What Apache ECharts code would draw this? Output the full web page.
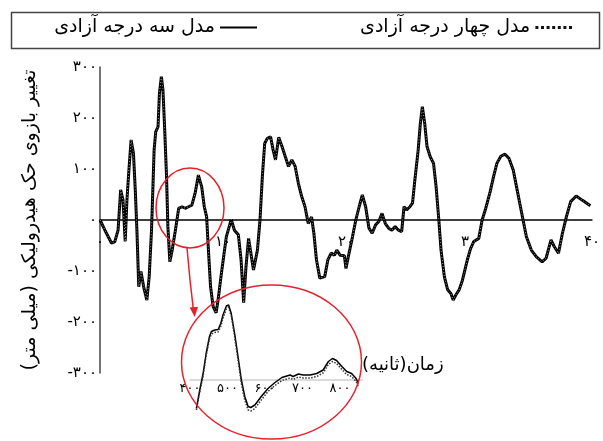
<!DOCTYPE html>
<html>
<head>
<meta charset="utf-8">
<script src="https://cdn.jsdelivr.net/npm/echarts@6/dist/echarts.min.js"></script>
<style>
  html, body { margin: 0; padding: 0; background: #fff; }
  #chart { width: 603px; height: 441px; }
</style>
</head>
<body>
<div id="chart"></div>
<script>
// نام سری‌ها و برچسب‌ها
const dof3Name = 'مدل سه درجه آزادی';
const dof4Name = 'مدل چهار درجه آزادی';
const yTitle = 'تغییر بازوی حک هیدرولیکی (میلی متر)';
const xTitle = 'زمان(ثانیه)';

// زمان (ثانیه) - نقاط خوانده شده از نمودار
const timeSec = [
  0, 0.4, 0.93, 1.2, 1.47, 1.68, 1.87, 2.05, 2.19, 2.35, 2.53, 2.72, 2.88, 3.01, 3.15, 3.33, 3.55, 3.81, 4.0, 4.19,
  4.4, 4.53, 4.72, 4.83, 4.99, 5.12, 5.25, 5.41, 5.52, 5.68, 5.87, 6.13, 6.4, 6.67, 6.93, 7.2, 7.47, 7.73, 8.0, 8.27,
  8.48, 8.67, 8.8, 8.99, 9.2, 9.44, 9.6, 9.87, 10.27, 10.67, 10.93, 11.25, 11.47, 11.68, 11.87, 12.08, 12.27, 12.48, 12.8, 13.01,
  13.2, 13.39, 13.6, 13.87, 14.08, 14.27, 14.53, 14.8, 15.07, 15.33, 15.6, 15.87, 16.13, 16.4, 16.67, 16.93, 17.2, 17.39, 17.6, 17.87,
  18.27, 18.53, 18.8, 19.07, 19.25, 19.52, 19.87, 20.0, 20.19, 20.53, 20.8, 21.07, 21.33, 21.6, 21.87, 22.13, 22.4, 22.67, 22.93, 23.2,
  23.47, 23.73, 24.0, 24.27, 24.53, 24.72, 24.93, 25.2, 25.41, 25.6, 25.87, 26.05, 26.21, 26.4, 26.59, 26.85, 27.12, 27.33, 27.55, 27.73,
  28.0, 28.27, 28.53, 28.72, 28.93, 29.2, 29.47, 29.73, 29.87, 30.13, 30.4, 30.8, 31.07, 31.33, 31.73, 32.0, 32.27, 32.59, 32.93, 33.25,
  33.6, 33.87, 34.13, 34.4, 34.67, 35.07, 35.47, 35.95, 36.27, 36.67, 36.93, 37.28, 37.6, 37.92, 38.27, 38.72, 39.2, 39.87
];
// تغییر بازو (میلی متر) - مدل سه درجه آزادی
const dof3Values = [
  0, -20, -45, -43, -20, 59, 39, -42, 39, 98, 157, 131, 53, -26, -131, -101, -131, -157, -111, -20,
  137, 173, 183, 248, 281, 255, 183, 85, -13, -82, -59, -20, 23, 26, 23, 26, 29, 52, 88, 65,
  26, 6, -52, -131, -170, -182, -157, -105, -33, 1, -20, -29, -78, -162, -92, -36, -65, -98, -59, 0,
  85, 150, 160, 163, 137, 118, 162, 144, 124, 105, 118, 105, 72, 46, 26, -7, 6, -26, -78, -114,
  -111, -78, -65, -69, -59, -69, -70, -95, -72, -33, 0, 26, 49, 26, -16, -26, -10, -3, 13, -7,
  -16, -20, -13, -20, -23, 26, 20, 26, 33, 78, 137, 190, 222, 190, 144, 124, 111, 65, 0, -59,
  -111, -137, -144, -157, -147, -137, -118, -92, -78, -56, -42, -36, 0, 20, 56, 85, 111, 125, 129, 121,
  98, 65, 33, 0, -33, -59, -72, -82, -75, -39, -52, -65, -26, 6, 36, 47, 39, 28
];
// مدل چهار درجه آزادی در این مقیاس روی همان منحنی می‌افتد
const dof4Values = dof3Values;

// بزرگنمایی داخل دایره
const insetSamples = [417, 426, 435, 443, 452, 457, 466, 475, 482, 488, 497, 503, 510, 519, 528, 537, 546, 555, 562, 573,
  590, 608, 625, 645, 667, 675, 689, 702, 720, 738, 755, 769, 780, 791, 805, 818, 831, 843, 849];
const insetDof3 = [-57, -20, 13, 53, 87, 97, 100, 101, 113, 130, 148, 150, 133, 93, 47, 0, -33, -53, -55, -50,
  -33, -17, -6, 5, 10, 7, 12, 10, 10, 13, 20, 37, 43, 39, 27, 17, 13, 3, -7];
const insetDof4 = [-60, -24, 9, 48, 82, 92, 95, 96, 107, 124, 142, 145, 128, 87, 40, -7, -40, -60, -62, -57,
  -40, -23, -12, -1, 4, 1, 6, 4, 4, 7, 14, 31, 37, 33, 21, 11, 7, -3, -13];
const insetTicks = [400, 500, 600, 700, 800];

const faDigits = '۰۱۲۳۴۵۶۷۸۹';
const toFa = n => String(n).replace(/\d/g, d => faDigits[d]);
const font = 'DejaVu Sans';

const zip = (xs, ys) => xs.map((x, i) => [x, ys[i]]);

const chart = echarts.init(document.getElementById('chart'));
chart.setOption({
  animation: false,
  textStyle: { fontFamily: font },
  legend: [
    {
      data: [dof3Name], right: 346, top: 18, align: 'right', selectedMode: false, padding: 0,
      icon: 'rect', itemWidth: 37, itemHeight: 2, itemStyle: { color: '#000' },
      textStyle: { fontSize: 19, color: '#000', fontFamily: font }
    },
    {
      data: [dof4Name], right: 31, top: 18, align: 'right', selectedMode: false, padding: 0,
      icon: 'path://M0,0h3v3h-3zM5.6,0h3v3h-3zM11.2,0h3v3h-3zM16.8,0h3v3h-3zM22.4,0h3v3h-3zM28,0h3v3h-3zM33.6,0h3v3h-3z',
      itemWidth: 37, itemHeight: 3, itemStyle: { color: '#111' },
      textStyle: { fontSize: 19, color: '#000', fontFamily: font }
    }
  ],
  grid: [
    { left: 100, right: 3, top: 67, height: 306 },
    { left: 190, width: 172.5, top: 290, height: 140 }
  ],
  xAxis: [
    {
      // محور زمان روی خط صفر
      type: 'value', min: 0, max: 40, interval: 10, offset: -153,
      axisLine: { onZero: false, lineStyle: { color: '#000', width: 1.5 } },
      axisTick: { show: false }, splitLine: { show: false },
      axisLabel: { margin: 15, fontSize: 15, color: '#000', formatter: v => toFa(v) }
    },
    {
      type: 'value', gridIndex: 1, min: 400, max: 860, interval: 100, offset: -50,
      axisLine: { onZero: false, lineStyle: { color: '#cfcfcf', width: 1.5 } },
      axisTick: { show: false }, splitLine: { show: false },
      axisLabel: {
        margin: 2, fontSize: 13, color: '#000',
        formatter: v => insetTicks.includes(v) ? toFa(v) : ''
      }
    }
  ],
  yAxis: [
    {
      type: 'value', min: -300, max: 300, interval: 100,
      name: yTitle, nameLocation: 'middle', nameRotate: 90, nameGap: 60,
      nameTextStyle: { fontSize: 19, color: '#000', fontFamily: font },
      axisLine: { show: true, lineStyle: { color: '#444', width: 1.5 } },
      axisTick: { show: false }, splitLine: { show: false },
      axisLabel: {
        margin: 3, fontSize: 15, color: '#000',
        formatter: v => v < 0 ? '-' + toFa(-v) : toFa(v)
      }
    },
    {
      type: 'value', gridIndex: 1, min: -100, max: 180, show: false
    }
  ],
  graphic: [
    {
      type: 'rect', left: 9, top: 10, z: 100,
      shape: { width: 588, height: 36 },
      style: { fill: 'none', stroke: '#444', lineWidth: 1.5 }
    },
    {
      type: 'text', left: 362, top: 356, z: 100,
      style: { text: xTitle, fontSize: 18, fontFamily: font, fill: '#000' }
    },
    {
      type: 'ellipse', z: 100,
      shape: { cx: 190, cy: 208, rx: 34, ry: 40 },
      style: { fill: 'none', stroke: '#e8202a', lineWidth: 1.5 }
    },
    {
      type: 'ellipse', z: 100,
      shape: { cx: 271.5, cy: 362, rx: 90, ry: 77 },
      style: { fill: 'none', stroke: '#e8202a', lineWidth: 1.5 }
    },
    {
      type: 'polyline', z: 100,
      shape: { points: [[187, 248], [190, 280], [193.3, 309]] },
      style: { fill: 'none', stroke: '#e8202a', lineWidth: 1.5 }
    },
    {
      type: 'polygon', z: 100,
      shape: { points: [[194.7, 317], [189.6, 307.5], [198, 306.8]] },
      style: { fill: '#e8202a' }
    }
  ],
  series: [
    {
      name: dof3Name, type: 'line', showSymbol: false, symbol: 'none',
      data: zip(timeSec, dof3Values),
      lineStyle: { color: '#000', width: 3 }, itemStyle: { color: '#000' }, z: 3
    },
    {
      name: dof4Name, type: 'line', showSymbol: false, symbol: 'none',
      data: zip(timeSec, dof4Values),
      lineStyle: { color: '#9a9a9a', width: 1, type: [1, 2] }, itemStyle: { color: '#111' }, z: 4
    },
    {
      name: dof3Name + ' ', type: 'line', xAxisIndex: 1, yAxisIndex: 1, showSymbol: false, symbol: 'none',
      data: zip(insetSamples, insetDof3),
      lineStyle: { color: '#000', width: 1.5 }, z: 3
    },
    {
      name: dof4Name + ' ', type: 'line', xAxisIndex: 1, yAxisIndex: 1, showSymbol: false, symbol: 'none',
      data: zip(insetSamples, insetDof4),
      lineStyle: { color: '#333', width: 1.5, type: [1.5, 1.5] }, z: 3
    }
  ]
});
</script>
</body>
</html>
